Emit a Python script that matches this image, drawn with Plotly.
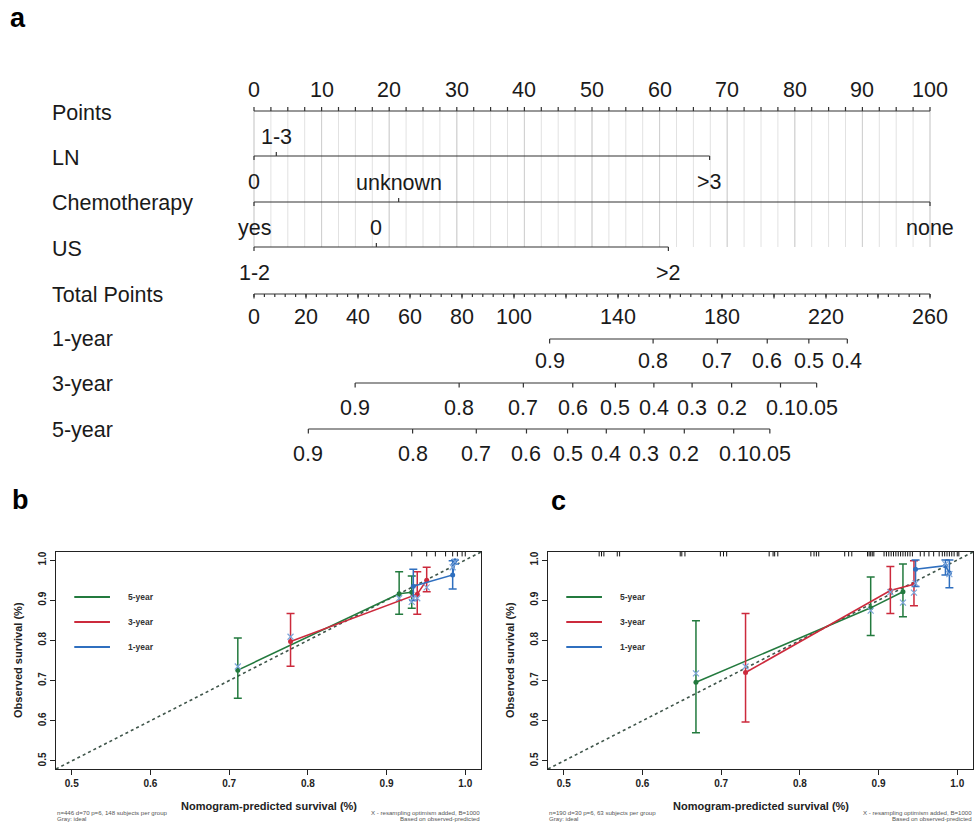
import numpy as np
import plotly.graph_objects as go

FONT = "Liberation Sans, Arial, sans-serif"
W, H = 976, 824

# ---------------- Nomogram data (panel a) ----------------
points_labels = [0, 10, 20, 30, 40, 50, 60, 70, 80, 90, 100]
ln_levels = ["0", "1-3", ">3"]
ln_points = [0, 3.3, 67.4]
chemo_levels = ["yes", "unknown", "none"]
chemo_points = [0, 21.4, 100]
us_levels = ["1-2", "0", ">2"]
us_points = [0, 18.1, 61.3]
total_labels = [0, 20, 40, 60, 80, 100, 140, 180, 220, 260]
total_max = 260
surv1_labels = ["0.9", "0.8", "0.7", "0.6", "0.5", "0.4"]
surv1_total = [113.7, 153.5, 178.2, 197.4, 213.4, 228.2]
surv3_labels = ["0.9", "0.8", "0.7", "0.6", "0.5", "0.4", "0.3", "0.2", "0.1", "0.05"]
surv3_total = [38.9, 78.9, 103.6, 122.6, 139.0, 153.8, 168.5, 183.7, 202.5, 216.4]
surv5_labels = ["0.9", "0.8", "0.7", "0.6", "0.5", "0.4", "0.3", "0.2", "0.1", "0.05"]
surv5_total = [20.9, 61.0, 85.5, 104.8, 120.6, 135.5, 150.1, 165.5, 184.5, 198.4]

# ---------------- Calibration data (panel b, training) ----------------
b5_pred = [0.711, 0.916, 0.932]
b5_obs = [0.726, 0.916, 0.920]
b5_lo = [0.656, 0.865, 0.880]
b5_hi = [0.806, 0.971, 0.960]
b5_corr = [0.735, 0.905, 0.896]
b3_pred = [0.778, 0.939, 0.951]
b3_obs = [0.797, 0.915, 0.950]
b3_lo = [0.736, 0.865, 0.921]
b3_hi = [0.867, 0.971, 0.982]
b3_corr = [0.809, 0.905, 0.932]
b1_pred = [0.934, 0.984, 0.987]
b1_obs = [0.935, 0.963, 0.998]
b1_lo = [0.899, 0.928, 0.990]
b1_hi = [0.977, 0.998, 1.000]
b1_corr = [0.905, 0.982, 0.996]
b_rug = [0.932, 0.951, 0.962, 0.975, 0.984, 0.990, 0.996, 1.0]

# ---------------- Calibration data (panel c, validation) ----------------
c5_pred = [0.668, 0.890, 0.931]
c5_obs = [0.696, 0.881, 0.921]
c5_lo = [0.570, 0.812, 0.859]
c5_hi = [0.849, 0.958, 0.990]
c5_corr = [0.718, 0.874, 0.894]
c3_pred = [0.731, 0.915, 0.945]
c3_obs = [0.720, 0.924, 0.940]
c3_lo = [0.597, 0.867, 0.886]
c3_hi = [0.867, 0.984, 0.998]
c3_corr = [0.735, 0.920, 0.919]
c1_pred = [0.947, 0.985, 0.990]
c1_obs = [0.977, 0.986, 0.968]
c1_lo = [0.934, 0.963, 0.931]
c1_hi = [1.000, 1.000, 1.000]
c1_corr = [0.942, 0.990, 0.965]
c_rug = [0.545, 0.548, 0.551, 0.568, 0.571, 0.648, 0.650, 0.654, 0.699, 0.703,
         0.707, 0.761, 0.766, 0.768, 0.772, 0.814, 0.818, 0.821, 0.824, 0.857,
         0.862, 0.866, 0.886, 0.888, 0.890, 0.892, 0.894, 0.907, 0.910, 0.913,
         0.916, 0.919, 0.922, 0.925, 0.928, 0.931, 0.934, 0.937, 0.940, 0.943,
         0.953, 0.958, 0.964, 0.970, 0.977, 0.981, 0.984, 0.987, 0.990, 0.993,
         0.996, 1.000, 1.002]

GREEN = "#237a3e"
RED = "#cc2a3c"
BLUE = "#2f6fbf"
XCOL = "#7ea6da"

fig = go.Figure()

# ---------- nomogram coordinate system (points scale x, pixel-row y) ----------
PX0, PX100 = 254.0, 930.0
PXPT = (PX100 - PX0) / 100.0
nomo_xrange = [(0 - PX0) / PXPT, (W - PX0) / PXPT]

def tp2pts(v):
    return v * 100.0 / total_max

# row positions (layout)
Y_POINTS, Y_LN, Y_CHEMO, Y_US = 111, 156, 202, 247
Y_TOTAL, Y_1Y, Y_3Y, Y_5Y = 294, 339, 383, 429
NFS = 21.5
annots = []

def nlabel(x, y, text, size=NFS, xanchor="center"):
    annots.append(dict(x=x, y=y, xref="x", yref="y", text=text, showarrow=False,
                       xanchor=xanchor, yanchor="middle",
                       font=dict(family=FONT, size=size, color="#1a1a1a")))

# gridlines
gx, gy = [], []
for v in np.arange(0, 100.01, 2.5):
    gx += [v, v, None]
    gy += [Y_POINTS, Y_US, None]
fig.add_trace(go.Scatter(x=gx, y=gy, mode="lines", line=dict(color="#e2e2e2", width=1),
                         hoverinfo="skip", showlegend=False, xaxis="x", yaxis="y"))
gx, gy = [], []
for v in points_labels:
    gx += [v, v, None]
    gy += [Y_POINTS, Y_US, None]
fig.add_trace(go.Scatter(x=gx, y=gy, mode="lines", line=dict(color="#cfcfcf", width=1),
                         hoverinfo="skip", showlegend=False, xaxis="x", yaxis="y"))

lx, ly = [], []
def seg(x0, x1, y0, y1):
    lx.extend([x0, x1, None])
    ly.extend([y0, y1, None])

# Points axis
seg(0, 100, Y_POINTS, Y_POINTS)
for v in np.arange(0, 100.01, 2.5):
    seg(v, v, Y_POINTS, Y_POINTS - 4)
for v in points_labels:
    nlabel(v, 90, str(v))

# categorical variables
for levels, pts, yrow in [(ln_levels, ln_points, Y_LN),
                          (chemo_levels, chemo_points, Y_CHEMO),
                          (us_levels, us_points, Y_US)]:
    seg(min(pts), max(pts), yrow, yrow)
    for i, (lab, p) in enumerate(zip(levels, pts)):
        if i == 1:
            seg(p, p, yrow, yrow - 4)
            nlabel(p, yrow - 19, lab)
        else:
            seg(p, p, yrow, yrow + 4)
            nlabel(p, yrow + 26, lab)

# Total points axis
seg(0, tp2pts(total_max), Y_TOTAL, Y_TOTAL)
for v in np.arange(0, total_max + 0.01, 4):
    seg(tp2pts(v), tp2pts(v), Y_TOTAL, Y_TOTAL + 3)
for v in np.arange(0, total_max + 0.01, 20):
    seg(tp2pts(v), tp2pts(v), Y_TOTAL, Y_TOTAL + 4.5)
for v in total_labels:
    nlabel(tp2pts(v), 317, str(v))

# survival axes
for labels, tps, yrow, ylab in [(surv1_labels, surv1_total, Y_1Y, 361),
                                (surv3_labels, surv3_total, Y_3Y, 408),
                                (surv5_labels, surv5_total, Y_5Y, 454)]:
    seg(tp2pts(min(tps)), tp2pts(max(tps)), yrow, yrow)
    for lab, t in zip(labels, tps):
        seg(tp2pts(t), tp2pts(t), yrow, yrow + 4.5)
        nlabel(tp2pts(t), ylab, lab)

fig.add_trace(go.Scatter(x=lx, y=ly, mode="lines", line=dict(color="#333333", width=1.2),
                         hoverinfo="skip", showlegend=False, xaxis="x", yaxis="y"))

# row names
for name, yrow in [("Points", 113), ("LN", Y_LN + 2), ("Chemotherapy", Y_CHEMO + 1),
                   ("US", Y_US + 2), ("Total Points", Y_TOTAL + 1), ("1-year", Y_1Y),
                   ("3-year", Y_3Y + 1), ("5-year", Y_5Y + 1)]:
    annots.append(dict(x=50 / W, y=yrow, xref="paper", yref="y", text=name, showarrow=False,
                       xanchor="left", yanchor="middle",
                       font=dict(family=FONT, size=NFS, color="#1a1a1a")))

# ---------------- calibration panels ----------------
def px2dom_x(px):
    return px / W

def px2dom_y(py):
    return 1 - py / H

panels = [
    ("x2", "y2", 56, 481, [(b5_pred, b5_obs, b5_lo, b5_hi, b5_corr, GREEN),
                           (b3_pred, b3_obs, b3_lo, b3_hi, b3_corr, RED),
                           (b1_pred, b1_obs, b1_lo, b1_hi, b1_corr, BLUE)], b_rug,
     "n=446 d=70 p=6, 148 subjects per group"),
    ("x3", "y3", 548, 973, [(c5_pred, c5_obs, c5_lo, c5_hi, c5_corr, GREEN),
                            (c3_pred, c3_obs, c3_lo, c3_hi, c3_corr, RED),
                            (c1_pred, c1_obs, c1_lo, c1_hi, c1_corr, BLUE)], c_rug,
     "n=190 d=30 p=6, 63 subjects per group"),
]
RNG = [0.48, 1.02]
TOP, BOT = 552, 769

for xa, ya, left, right, series, rug, note in panels:
    # ideal line
    fig.add_trace(go.Scatter(x=RNG, y=RNG, mode="lines", xaxis=xa, yaxis=ya,
                             line=dict(color="#3f554a", width=1.6, dash="dot"),
                             hoverinfo="skip", showlegend=False))
    # rug
    rx, ry = [], []
    for v in rug:
        rx += [v, v, None]
        ry += [1.02, 1.009, None]
    fig.add_trace(go.Scatter(x=rx, y=ry, mode="lines", xaxis=xa, yaxis=ya,
                             line=dict(color="#111111", width=1),
                             hoverinfo="skip", showlegend=False))
    for pred, obs, lo, hi, corr, col in series:
        fig.add_trace(go.Scatter(
            x=pred, y=obs, mode="lines+markers", xaxis=xa, yaxis=ya,
            line=dict(color=col, width=1.6),
            marker=dict(color=col, size=5),
            error_y=dict(type="data", symmetric=False,
                         array=[h - o for h, o in zip(hi, obs)],
                         arrayminus=[o - l for o, l in zip(obs, lo)],
                         color=col, thickness=1.5, width=4),
            hoverinfo="skip", showlegend=False))
        fig.add_trace(go.Scatter(
            x=pred, y=corr, mode="markers", xaxis=xa, yaxis=ya,
            marker=dict(symbol="x-thin-open", color=XCOL, size=6, line=dict(width=1.2, color=XCOL)),
            hoverinfo="skip", showlegend=False))
    # legend
    xdom = xa + " domain"
    ydom = ya + " domain"
    for lab, col, ypx in [("5-year", GREEN, 597), ("3-year", RED, 622), ("1-year", BLUE, 647)]:
        yd = (BOT - ypx) / (BOT - TOP)
        fig.add_shape(type="line", xref=xdom, yref=ydom, x0=0.043, x1=0.127, y0=yd, y1=yd,
                      line=dict(color=col, width=1.8))
        annots.append(dict(x=0.165, y=yd, xref=xdom, yref=ydom, text="<b>" + lab + "</b>",
                           showarrow=False, xanchor="left", yanchor="middle",
                           font=dict(family=FONT, size=8.5, color="#333333")))
    mid = (left + right) / 2
    annots.append(dict(x=px2dom_x(mid), y=px2dom_y(806), xref="paper", yref="paper",
                       text="<b>Nomogram-predicted survival (%)</b>", showarrow=False,
                       xanchor="center", yanchor="middle",
                       font=dict(family=FONT, size=11, color="#222222")))
    annots.append(dict(x=px2dom_x(left - 38), y=px2dom_y(660), xref="paper", yref="paper",
                       text="<b>Observed survival (%)</b>", showarrow=False, textangle=-90,
                       xanchor="center", yanchor="middle",
                       font=dict(family=FONT, size=11, color="#222222")))
    foot = dict(showarrow=False, xref="paper", yref="paper", yanchor="middle",
                font=dict(family=FONT, size=6.1, color="#555555"))
    annots.append(dict(foot, x=px2dom_x(left - 1), y=px2dom_y(812), text=note, xanchor="left"))
    annots.append(dict(foot, x=px2dom_x(left - 1), y=px2dom_y(818.5), text="Gray: ideal", xanchor="left"))
    annots.append(dict(foot, x=px2dom_x(right + 1), y=px2dom_y(812),
                       text="X - resampling optimism added, B=1000", xanchor="right"))
    annots.append(dict(foot, x=px2dom_x(right + 1), y=px2dom_y(818.5),
                       text="Based on observed-predicted", xanchor="right"))

# panel letters
for letter, xp, yp in [("a", 18, 18), ("b", 20, 500), ("c", 558, 501)]:
    annots.append(dict(x=px2dom_x(xp), y=px2dom_y(yp), xref="paper", yref="paper",
                       text="<b>" + letter + "</b>", showarrow=False,
                       xanchor="center", yanchor="middle",
                       font=dict(family=FONT, size=27, color="#000000")))

cal_x = dict(range=RNG, showgrid=False, zeroline=False, showline=True, mirror=True,
             linecolor="#222222", linewidth=1, ticks="outside", ticklen=5, tickcolor="#222222",
             tickvals=[0.5, 0.6, 0.7, 0.8, 0.9, 1.0], ticktext=["0.5", "0.6", "0.7", "0.8", "0.9", "1.0"],
             tickfont=dict(family=FONT, size=10, color="#222222", weight="bold"))
cal_y = dict(cal_x, tickangle=-90)

fig.update_layout(
    width=W, height=H, margin=dict(l=0, r=0, t=0, b=0),
    paper_bgcolor="white", plot_bgcolor="rgba(0,0,0,0)",
    showlegend=False,
    xaxis=dict(domain=[0, 1], range=nomo_xrange, visible=False, fixedrange=True),
    yaxis=dict(domain=[0, 1], range=[H, 0], visible=False, fixedrange=True),
    xaxis2=dict(cal_x, domain=[px2dom_x(56), px2dom_x(481)], anchor="y2"),
    yaxis2=dict(cal_y, domain=[px2dom_y(BOT), px2dom_y(TOP)], anchor="x2"),
    xaxis3=dict(cal_x, domain=[px2dom_x(548), px2dom_x(973)], anchor="y3"),
    yaxis3=dict(cal_y, domain=[px2dom_y(BOT), px2dom_y(TOP)], anchor="x3"),
    annotations=annots,
)

fig.write_html("out.html", config={"displayModeBar": False, "staticPlot": True},
               post_script="document.body.style.margin='0';document.body.style.overflow='hidden';")
